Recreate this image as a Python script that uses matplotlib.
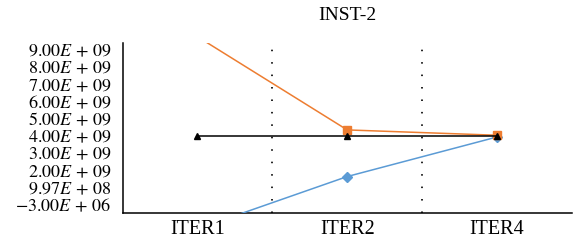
import matplotlib
matplotlib.use("Agg")
import matplotlib.pyplot as plt

# data
iters = ["ITER1", "ITER2", "ITER4"]
orange_vals = [9.78e9, 4.36e9, 4.05e9]
blue_vals = [-1.39e9, 1.65e9, 3.95e9]
black_vals = [4.0e9, 4.0e9, 4.0e9]

ytick_vals = [-3e6, 9.97e8, 2e9, 3e9, 4e9, 5e9, 6e9, 7e9, 8e9, 9e9]
ytick_labels = [r"$-3.00E\/+\/06$", r"$9.97E\/+\/08$", r"$2.00E\/+\/09$", r"$3.00E\/+\/09$",
                r"$4.00E\/+\/09$", r"$5.00E\/+\/09$", r"$6.00E\/+\/09$", r"$7.00E\/+\/09$",
                r"$8.00E\/+\/09$", r"$9.00E\/+\/09$"]

plt.rcParams["font.family"] = ["Liberation Serif", "DejaVu Serif"]
plt.rcParams["mathtext.fontset"] = "stix"

fig = plt.figure(figsize=(5.73, 2.40), dpi=100)
ax = fig.add_axes([0.214, 0.1125, 0.784, 0.7095])

x = list(range(len(iters)))

ax.plot(x, blue_vals, color="#5B9BD5", lw=1.1, marker="D", ms=5, zorder=3)
ax.plot(x, orange_vals, color="#ED7D31", lw=1.1, marker="s", ms=5.5, zorder=4)
ax.plot(x, black_vals, color="black", lw=1.1, marker="^", ms=4, zorder=5)

for xb in [0.5, 1.5]:
    ax.axvline(xb, color="#222222", lw=1.4, linestyle=(0, (0.8, 5.6)), zorder=1)

ax.set_xlim(-0.5, 2.5)
ax.set_ylim(-0.47e9, 9.43e9)
ax.set_xticks(x)
ax.set_xticklabels(iters, fontsize=14.5)
ax.set_yticks(ytick_vals)
ax.set_yticklabels(ytick_labels, fontsize=13)
ax.tick_params(axis="both", length=0)
ax.tick_params(axis="y", pad=8)
ax.tick_params(axis="x", pad=5)

for s in ["top", "right"]:
    ax.spines[s].set_visible(False)
ax.spines["left"].set_linewidth(1.1)
ax.spines["bottom"].set_linewidth(1.1)

ax.set_title("INST-2", fontsize=14, pad=16)

fig.savefig("out.png", dpi=100)
